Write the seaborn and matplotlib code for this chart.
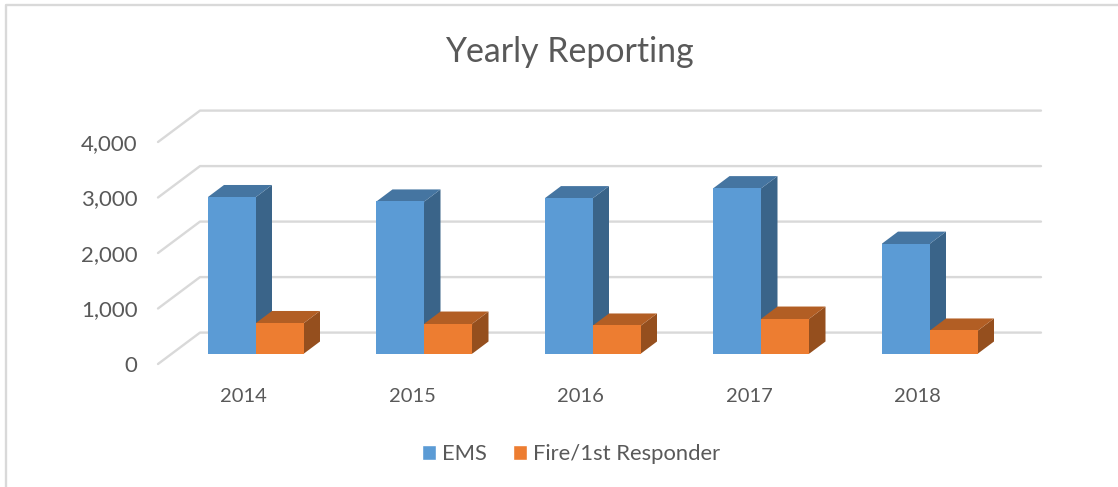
import matplotlib
matplotlib.use("Agg")
import matplotlib.pyplot as plt
import numpy as np
import pandas as pd
import seaborn as sns
from matplotlib.lines import Line2D
from matplotlib.patches import Patch, Polygon

# ===== data =====
years = ["2014", "2015", "2016", "2017", "2018"]
ems = [2820, 2740, 2800, 2980, 1980]
fire = [550, 540, 505, 630, 415]
y_ticks = [0, 1000, 2000, 3000, 4000]

W, H = 1118, 487
BLUE = "#5B9BD5"
ORANGE = "#ED7D31"
TEXT = "#595959"
GRID = "#D9D9D9"

# pixel scale of the bar plane
PX_CAT = 168.5
PX_UNIT = 55.5 / 1000
X0_PX, Y0_PX = 256, 353.5
# axes box in pixels
LEFT, RIGHT, TOP, BOTTOM = 150, 1060, 100, 375


def px_x(p):
    return (p - X0_PX) / PX_CAT


def px_y(p):
    return (Y0_PX - p) / PX_UNIT


sns.set_theme(style="white")
plt.rcParams["font.family"] = ["Lato", "DejaVu Sans"]

df = pd.DataFrame({
    "year": years * 2,
    "value": ems + fire,
    "series": ["EMS"] * len(years) + ["Fire/1st Responder"] * len(years),
})

fig = plt.figure(figsize=(W / 100, H / 100), dpi=100)
ax = fig.add_axes([LEFT / W, 1 - BOTTOM / H, (RIGHT - LEFT) / W, (BOTTOM - TOP) / H])

sns.barplot(data=df, x="year", y="value", hue="series", palette=[BLUE, ORANGE],
            saturation=1, width=96 / PX_CAT, gap=0, linewidth=0, legend=False,
            ax=ax, zorder=3)
ax.set_xlim(px_x(LEFT), px_x(RIGHT))
ax.set_ylim(px_y(BOTTOM), px_y(TOP))

# ===== back wall gridlines =====
wall_dy = Y0_PX - 332.6
front_dy = 364 - Y0_PX
for v in y_ticks:
    xs = [px_x(158), px_x(200), px_x(1041)]
    ys = [v - front_dy / PX_UNIT, v + wall_dy / PX_UNIT, v + wall_dy / PX_UNIT]
    ax.plot(xs, ys, color=GRID, lw=1.7, zorder=1, clip_on=False)

# ===== 3D side and top faces =====
# faces run a little under the front face so no white seam shows
dx, dy = 16 / PX_CAT, 12 / PX_UNIT
ex, ey = 2 / PX_CAT, 2 / PX_UNIT
faces = [(ax.containers[0], "#4575A1", "#3A6489", 2), (ax.containers[1], "#B25E24", "#954F1E", 2.5)]
for bars, top_c, side_c, z in faces:
    for b in bars:
        x0, x1, h = b.get_x(), b.get_x() + b.get_width(), b.get_height()
        ax.add_patch(Polygon([(x1 - ex, 0), (x1, 0), (x1 + dx, dy), (x1 + dx, h + dy), (x1, h), (x1 - ex, h)],
                             fc=side_c, ec="none", zorder=z))
        ax.add_patch(Polygon([(x0, h - ey), (x0, h), (x0 + dx, h + dy), (x1 + dx, h + dy), (x1, h), (x1, h - ey)],
                             fc=top_c, ec="none", zorder=z))

# ===== axes text =====
ax.set_xticks(np.arange(len(years)) - 12.5 / PX_CAT, years)
ax.set_yticks(np.array(y_ticks) - front_dy / PX_UNIT, [f"{v:,}" for v in y_ticks])
ax.tick_params(axis="x", length=0, pad=9, labelsize=14.5, labelcolor=TEXT)
ax.tick_params(axis="y", length=0, pad=9, labelsize=16, labelcolor=TEXT)
ax.set_xlabel("")
ax.set_ylabel("")
sns.despine(ax=ax, left=True, bottom=True)

fig.text(569 / W, 1 - 52 / H, "Yearly Reporting", ha="center", va="center",
         fontsize=24.4, color=TEXT)

handles = [Patch(fc=BLUE, label="EMS"), Patch(fc=ORANGE, label="Fire/1st Responder")]
fig.legend(handles=handles, loc="center", bbox_to_anchor=(571 / W, 1 - 454 / H), ncol=2,
           frameon=False, fontsize=15.8, labelcolor=TEXT, handlelength=0.64, handleheight=0.64,
           handletextpad=0.27, columnspacing=1.18, borderpad=0)

# ===== outer frame =====
fig.add_artist(Line2D([6 / W, 6 / W, 1], [0, 1 - 5 / H, 1 - 5 / H], color=GRID, lw=1.7))

fig.savefig("out.png", dpi=100)
